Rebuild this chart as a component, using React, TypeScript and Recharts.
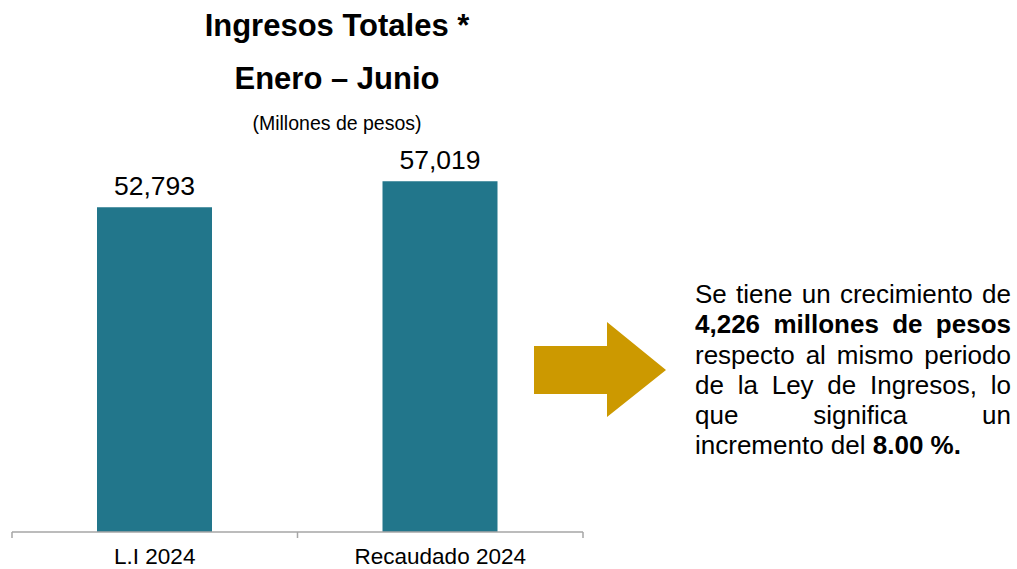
import React from "react";
import { BarChart, Bar, XAxis, YAxis, LabelList } from "recharts";

const categories = ["L.I 2024", "Recaudado 2024"];
const values = [52793, 57019];
const titleLines = ["Ingresos Totales *", "Enero – Junio"];
const subtitle = "(Millones de pesos)";

const data = categories.map((c, i) => ({ name: c, value: values[i] }));

const FONT = "'Liberation Sans', Arial, sans-serif";
const CHART_W = 600;
const CHART_H = 569;
const MARGIN = { top: 163, left: 12, right: 17, bottom: 0 };
const HALF_BAND = (CHART_W - MARGIN.left - MARGIN.right) / categories.length / 2;

const AxisTick = (props: any) => {
  const { x, y, payload, index } = props;
  const last = index === categories.length - 1;
  return (
    <g>
      <line x1={x - HALF_BAND} x2={x - HALF_BAND} y1={y - 6} y2={y} stroke="#a6a6a6" strokeWidth={1.5} />
      {last && (
        <line x1={x + HALF_BAND} x2={x + HALF_BAND} y1={y - 6} y2={y} stroke="#a6a6a6" strokeWidth={1.5} />
      )}
      <text x={x} y={y + 26} textAnchor="middle" fontSize={22.5} fill="#000" fontFamily={FONT}>
        {payload.value}
      </text>
    </g>
  );
};

const lineStyle = (justify: boolean): React.CSSProperties => ({
  textAlign: "justify",
  textAlignLast: justify ? "justify" : "left",
  whiteSpace: "nowrap",
});

export default function App() {
  return (
    <div style={{ position: "absolute", left: 0, top: 0, width: 1017, height: 569, background: "#fff" }}>
      <svg width={1017} height={569} style={{ position: "absolute", left: 0, top: 0 }}>
        <text x={337} y={36} textAnchor="middle" fontSize={31} fontWeight="bold" fontFamily={FONT} fill="#000">
          {titleLines[0]}
        </text>
        <text x={337} y={89} textAnchor="middle" fontSize={31} fontWeight="bold" fontFamily={FONT} fill="#000">
          {titleLines[1]}
        </text>
        <text x={337} y={130} textAnchor="middle" fontSize={19.5} fontFamily={FONT} fill="#000">
          {subtitle}
        </text>
        <polygon points="534,346 607,346 607,322 666,370 607,417 607,394 534,394" fill="#CC9900" />
      </svg>
      <div style={{ position: "absolute", left: 0, top: 0 }}>
        <BarChart width={CHART_W} height={CHART_H} data={data} margin={MARGIN}>
          <YAxis hide domain={[0, 60000]} />
          <XAxis
            dataKey="name"
            height={37}
            axisLine={{ stroke: "#a6a6a6", strokeWidth: 1.5 }}
            tickLine={false}
            tickSize={6}
            tickMargin={0}
            tick={<AxisTick />}
            interval={0}
          />
          <Bar dataKey="value" fill="#22768B" barSize={115} isAnimationActive={false}>
            <LabelList
              dataKey="value"
              position="top"
              offset={12}
              fontSize={26.5}
              fill="#000"
              fontFamily={FONT}
              formatter={(v: any) => Number(v).toLocaleString("en-US")}
            />
          </Bar>
        </BarChart>
      </div>
      <div
        style={{
          position: "absolute",
          left: 695,
          top: 279,
          width: 316,
          fontFamily: FONT,
          fontSize: 26,
          lineHeight: "30.3px",
          color: "#000",
        }}
      >
        <div style={lineStyle(true)}>Se tiene un crecimiento de</div>
        <div style={lineStyle(true)}>
          <b>4,226 millones de pesos</b>
        </div>
        <div style={lineStyle(true)}>respecto al mismo periodo</div>
        <div style={lineStyle(true)}>de la Ley de Ingresos, lo</div>
        <div style={lineStyle(true)}>que significa un</div>
        <div style={lineStyle(false)}>
          incremento del <b>8.00 %.</b>
        </div>
      </div>
    </div>
  );
}
